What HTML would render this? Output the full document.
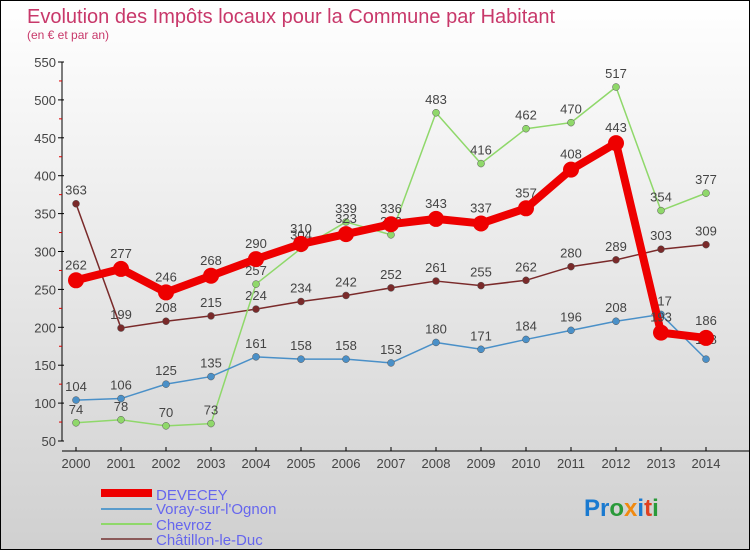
<!DOCTYPE html>
<html><head><meta charset="utf-8"><style>
body{margin:0}
#c{width:750px;height:550px;position:relative;background:linear-gradient(#fff,#d0d0d0);border:1px solid #000;box-sizing:border-box;overflow:hidden;font-family:"Liberation Sans",sans-serif}
</style></head><body>
<div id="c">
<svg id="s" width="750" height="550" style="position:absolute;left:0;top:0">
<text x="26" y="22" font-size="20" fill="#c8386a">Evolution des Impôts locaux pour la Commune par Habitant</text>
<text x="26" y="38" font-size="12" fill="#c8386a">(en € et par an)</text>
<g id="ax"></g><g id="ser"></g>
<g>
<line x1="100" y1="492" x2="151" y2="492" stroke="#e00" stroke-width="8"/>
<text x="155" y="499" font-size="15" fill="#6666ee">DEVECEY</text>
<line x1="100" y1="508" x2="151" y2="508" stroke="#5a9ccc" stroke-width="2"/>
<text x="155" y="513" font-size="15" fill="#6666ee">Voray-sur-l'Ognon</text>
<line x1="100" y1="523" x2="151" y2="523" stroke="#8fd86a" stroke-width="2"/>
<text x="155" y="529" font-size="15" fill="#6666ee">Chevroz</text>
<line x1="100" y1="538" x2="151" y2="538" stroke="#8b5a5a" stroke-width="2"/>
<text x="155" y="544" font-size="15" fill="#6666ee">Châtillon-le-Duc</text>
</g>
<text x="583" y="515" font-size="24" font-weight="bold"><tspan fill="#1a7ad0">Pr</tspan><tspan fill="#2a9a3a">o</tspan><tspan fill="#f08a10">x</tspan><tspan fill="#1a7ad0">i</tspan><tspan fill="#e04020">t</tspan><tspan fill="#2a9a3a">i</tspan></text>
</svg>
</div>
<script>
const years=[2000,2001,2002,2003,2004,2005,2006,2007,2008,2009,2010,2011,2012,2013,2014];
const yTicks=[50,100,150,200,250,300,350,400,450,500,550];
const devecey=[262,277,246,268,290,310,323,336,343,337,357,408,443,193,186];
const voray=[104,106,125,135,161,158,158,153,180,171,184,196,208,217,158];
const chevroz=[74,78,70,73,257,304,339,322,483,416,462,470,517,354,377];
const chatillon=[363,199,208,215,224,234,242,252,261,255,262,280,289,303,309];
const NS="http://www.w3.org/2000/svg";
const X=i=>75+i*45;
const Y=v=>440-(v-50)*379/500;
function mk(t,a,p){const e=document.createElementNS(NS,t);for(const k in a)e.setAttribute(k,a[k]);p.appendChild(e);return e;}
const ax=document.getElementById('ax'),ser=document.getElementById('ser');
let yl=mk('line',{x1:61,y1:Y(550),x2:61,y2:Y(50),stroke:'#000'},ax);


yTicks.forEach(v=>{
 mk('line',{x1:57,y1:Y(v),x2:63,y2:Y(v),stroke:'#000'},ax);
 mk('line',{x1:58,y1:Y(v+25),x2:61,y2:Y(v+25),stroke:v<550?'#d00':'none'},ax);
 const t=mk('text',{x:55,y:Y(v)+5,'text-anchor':'end','font-size':13,fill:'#444'},ax);
 t.textContent=v;
 
 
});
let xl=mk('line',{x1:61,y1:450,x2:750,y2:450,stroke:'#000'},ax);


years.forEach((y,i)=>{
 mk('line',{x1:X(i),y1:446,x2:X(i),y2:450,stroke:'#000'},ax);
 const t=mk('text',{x:X(i),y:467,'text-anchor':'middle','font-size':13,fill:'#444'},ax);
 t.textContent=y;
 
 
});
function series(d,col,w,r,name,lblOff){
 const g=mk('g',{},ser);
 
 
 const pl=mk('polyline',{points:d.map((v,i)=>X(i)+','+Y(v)).join(' '),fill:'none',stroke:col,'stroke-width':w,'stroke-linejoin':'round'},g);
 
 
 d.forEach((v,i)=>{
  const c=mk('circle',{cx:X(i),cy:Y(v),r:r,fill:col,stroke:w>3?'none':'#555','stroke-width':0.5},g);
  
  
  const t=mk('text',{x:X(i),y:Y(v)+lblOff(i),'text-anchor':'middle','font-size':13,fill:'#444'},g);
  t.textContent=v;
  
  
 });
}
series(chatillon,'#7a2a2a',1.5,3.5,'chatillon',i=>-9);
series(chevroz,'#8fd86a',1.5,3.5,'chevroz',i=>-9);
series(voray,'#4a90c8',1.5,3.5,'voray',i=>i==14?-15:-9);
series(devecey,'#ee0000',8,8,'devecey',i=>i==14?-13:-11);
</script>
</body></html>
